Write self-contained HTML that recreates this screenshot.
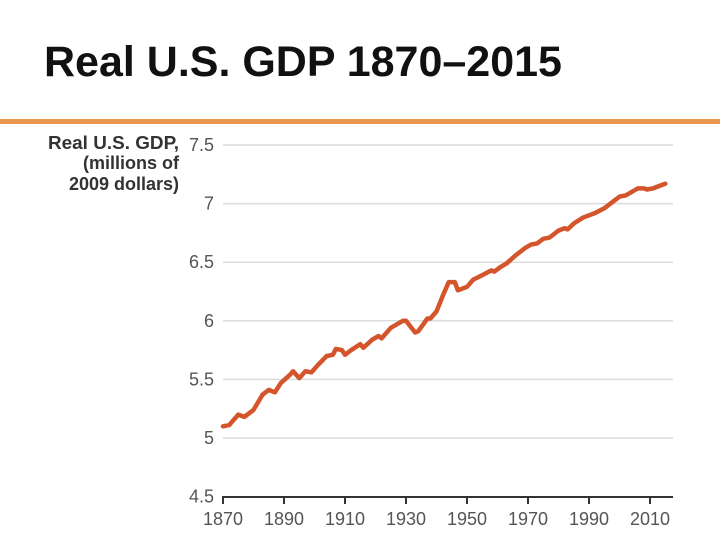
<!DOCTYPE html>
<html><head><meta charset="utf-8"><style>
body{margin:0;width:720px;height:540px;background:#fff;overflow:hidden;font-family:"Liberation Sans",Arial,sans-serif}
#title{position:absolute;left:44px;top:38px;font-size:43px;line-height:1.15;font-weight:bold;color:#111;white-space:nowrap}
#rule{position:absolute;left:0;top:119px;width:720px;height:5px;background:#EA9550}
svg{position:absolute;left:0;top:0}
</style></head><body>
<div id="title">Real U.S. GDP 1870–2015</div>
<div id="rule"></div>
<svg id="chart" width="720" height="540">
<g font-family="Liberation Sans, Arial, sans-serif" font-weight="bold" font-size="18" fill="#333" text-anchor="end">
<text x="179" y="149" textLength="131" lengthAdjust="spacingAndGlyphs">Real U.S. GDP,</text>
<text x="179" y="169">(millions of</text>
<text x="179" y="190">2009 dollars)</text>
</g>
</svg>
<script>
const years=[1870,1872,1875,1877,1880,1883,1885,1887,1889,1892,1893,1895,1897,1899,1901,1904,1906,1907,1909,1910,1912,1915,1916,1919,1921,1922,1925,1927,1929,1930,1933,1934,1937,1938,1940,1942,1944,1946,1947,1949,1950,1952,1955,1958,1959,1961,1963,1966,1969,1971,1973,1975,1977,1980,1982,1983,1985,1988,1990,1992,1995,1998,2000,2002,2004,2006,2008,2009,2011,2013,2015];
const gdp=[5.10,5.11,5.20,5.18,5.24,5.37,5.41,5.39,5.47,5.54,5.57,5.51,5.57,5.56,5.62,5.70,5.71,5.76,5.75,5.71,5.75,5.80,5.77,5.84,5.87,5.85,5.94,5.97,6.00,6.00,5.90,5.91,6.02,6.02,6.08,6.21,6.33,6.33,6.26,6.28,6.29,6.35,6.39,6.43,6.42,6.46,6.49,6.56,6.62,6.65,6.66,6.70,6.71,6.77,6.79,6.78,6.83,6.88,6.90,6.92,6.96,7.02,7.06,7.07,7.10,7.13,7.13,7.12,7.13,7.15,7.17];
const yTicks=[4.5,5,5.5,6,6.5,7,7.5];
const yTickLabels=["4.5","5","5.5","6","6.5","7","7.5"];
const xTicks=[1870,1890,1910,1930,1950,1970,1990,2010];
const NS="http://www.w3.org/2000/svg";
const svg=document.getElementById('chart');
const X=y=>223+(y-1870)*(650-223)/140;
const Y=v=>438-(v-5)*(438-145)/2.5;
function mk(t,a){const e=document.createElementNS(NS,t);for(const k in a)e.setAttribute(k,a[k]);svg.appendChild(e);return e;}
yTicks.forEach((v,i)=>{
 if(v>4.5){const g=mk('line',{x1:223,x2:673,y1:Y(v),y2:Y(v),stroke:'#dcdcdc','stroke-width':1.5});
 
 }
 const t=mk('text',{x:214,y:Y(v)+6,'text-anchor':'end','font-size':18,fill:'#555','font-family':'Liberation Sans, Arial, sans-serif'});
 t.textContent=yTickLabels[i];
 
 
});
const ax=mk('line',{x1:222,x2:673,y1:497,y2:497,stroke:'#333','stroke-width':2});


xTicks.forEach(yr=>{
 const tk=mk('line',{x1:X(yr),x2:X(yr),y1:497,y2:504,stroke:'#333','stroke-width':2});
 
 
 const t=mk('text',{x:X(yr),y:525,'text-anchor':'middle','font-size':18,fill:'#555','font-family':'Liberation Sans, Arial, sans-serif'});
 t.textContent=String(yr);
 
 
});
const d=years.map((yr,i)=>(i?'L':'M')+X(yr).toFixed(1)+','+Y(gdp[i]).toFixed(1)).join(' ');
const p=mk('path',{d:d,fill:'none',stroke:'#D4552B','stroke-width':4.5,'stroke-linejoin':'round','stroke-linecap':'round'});


</script>
</body></html>
